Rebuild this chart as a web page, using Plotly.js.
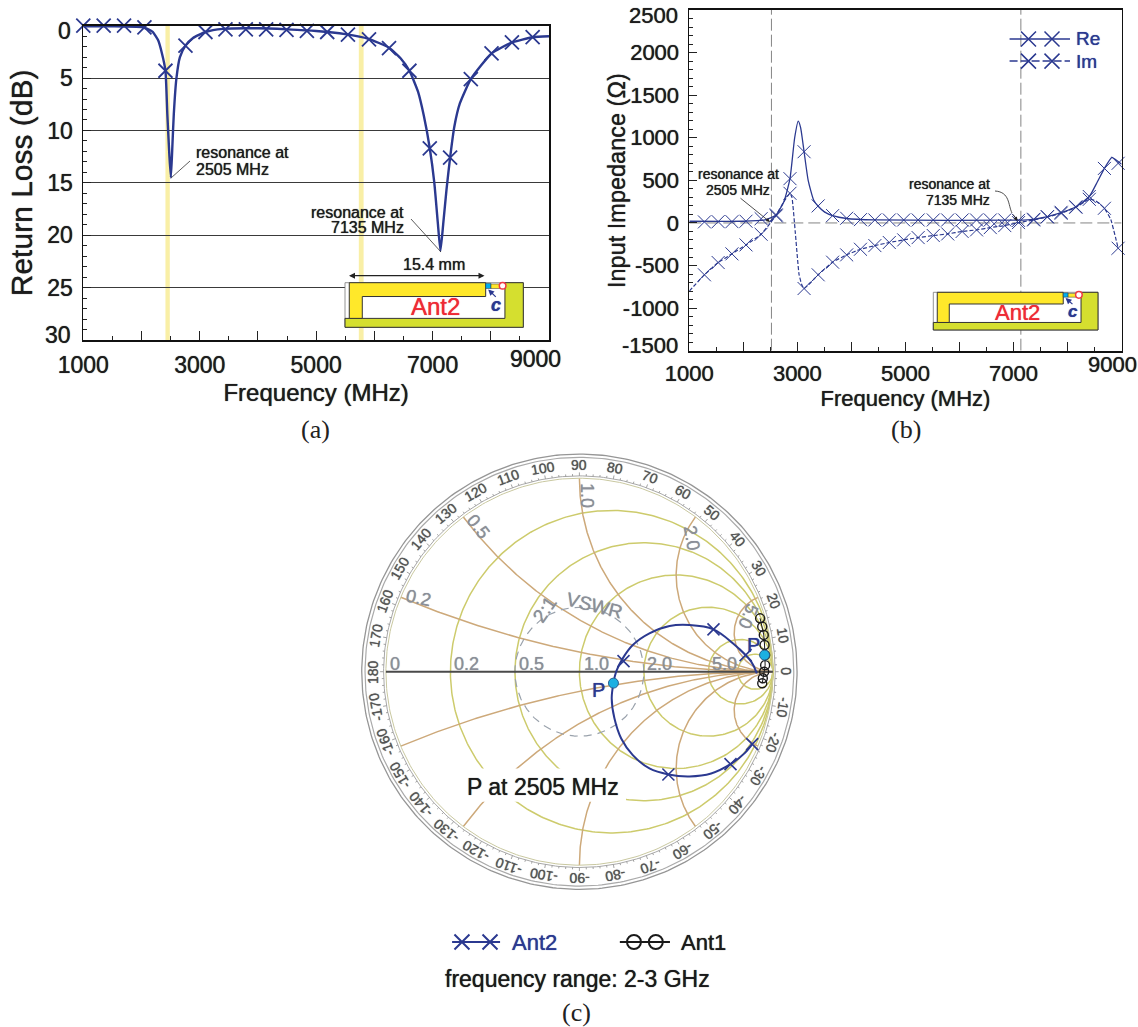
<!DOCTYPE html>
<html><head><meta charset="utf-8">
<script src="https://cdn.plot.ly/plotly-3.0.1.min.js"></script>
<style>html,body{margin:0;padding:0;background:#fff}#c{width:1138px;height:1027px}</style>
</head><body><div id="c"></div>
<script>
// Panel (a) return loss
const rlLineF=[1000,1500,2000,2100,2192,2286,2349,2411,2443,2480,2505,2530,2555,2600,2660,2755,2880,3098,3400,4000,4500,5000,5500,5900,6250,6450,6602,6750,6850,6952,7030,7090,7135,7185,7240,7301,7375,7470,7657,8013,8363,8719,9000];
const rlLineV=[0.05,0.05,0.12,0.3,0.6,1.4,2.6,4.3,8.4,12.5,14.5,11.5,8.4,5,3,1.9,1.2,0.6,0.3,0.25,0.35,0.5,0.8,1.25,2.1,3.1,4.3,6.3,8.6,11.7,15,18.8,21.5,18.8,15.6,12.6,9.6,7.4,5.1,2.65,1.6,1.1,1.0];
const rlMarkF=[1000,1350,1700,2050,2411,2755,3098,3442,3792,4141,4491,4841,5190,5546,5908,6252,6602,6952,7301,7657,8013,8363,8719];
const rlMarkV=[0,0,0,0.15,4.3,1.9,0.6,0.35,0.35,0.35,0.4,0.5,0.6,0.85,1.3,2.15,4.3,11.7,12.6,5.1,2.65,1.6,1.1];
// Panel (b) input impedance
const reLineF=[1000,2000,2400,2600,2750,2863,2950,3016,3060,3124,3200,3300,3385,3500,3652,3912,4434,7092,7372,7626,7880,8154,8402,8550,8682,8821,8936,9000];
const reLineV=[20,20,35,90,250,520,1000,1195,1120,836,500,270,195,130,86,52,35,32,43,74,120,190,310,480,640,770,720,690];
const imLineF=[1000,1280,1534,1789,2049,2329,2500,2609,2750,2863,2900,2960,3030,3078,3124,3385,3652,3912,4167,4434,4701,4968,5235,5515,5782,6049,6316,6570,6838,7092,7372,7626,7880,8154,8402,8520,8682,8800,8936];
const imLineV=[-800,-609,-465,-363,-258,-133,0,94,250,350,300,-100,-600,-720,-770,-609,-461,-375,-309,-266,-230,-199,-172,-148,-129,-100,-82,-55,-31,4,35,70,113,184,277,260,172,40,-297];
const zMarkF=[1280,1534,1789,2049,2329,2609,2863,3124,3385,3652,3912,4167,4434,4701,4968,5235,5515,5782,6049,6316,6570,6838,7092,7372,7626,7880,8154,8402,8682,8936];
const reMarkV=[12,15,15,20,50,82,520,836,200,86,55,39,35,35,35,35,35,35,35,35,35,35,30,43,74,125,190,310,640,700];
const imMarkV=[-609,-465,-363,-258,-133,94,348,-770,-609,-461,-375,-309,-266,-230,-199,-172,-148,-129,-100,-82,-55,-31,4,35,70,113,184,277,172,-297];
const reKeyF=[6927,8045], keyMarkF=[7277,7712];
const reKeyZ=2160, imKeyZ=1900;
// Panel (c) Smith chart
const ant2Re=[.917,.888,.793,.693,.569,.466,.362,.276,.224,.190,.176,.167,.181,.216,.276,.362,.460,.569,.681,.781,.853,.893];
const ant2Im=[-.009,.052,.147,.219,.241,.236,.198,.138,.069,0,-.059,-.138,-.241,-.345,-.431,-.5,-.531,-.541,-.526,-.478,-.422,-.374];
const ant2MarkRe=[.859,.693,.228,.460,.781,.893];
const ant2MarkIm=[.086,.219,.055,-.531,-.478,-.374];
const ant1Re=[.934,.945,.953,.957,.960,.960,.955,.948,.945];
const ant1Im=[.276,.233,.190,.138,.086,.034,0,-.034,-.060];
const pointRe=[.176,.957], pointIm=[-.059,.086];
const rGrid=[0.2,0.5,1,2,5,10];
const xGrid=[0.2,0.5,1,2,5];
const vswrRadius=1/3;
const angleLabels=[180,170,160,150,140,130,120,110,100,90,80,70,60,50,40,30,20,10,0,-10,-20,-30,-40,-50,-60,-70,-80,-90,-100,-110,-120,-130,-140,-150,-160,-170];

const W=1138,H=1027;
const px=x=>x/W, py=y=>1-y/H;
const BLUE='#2b3990', INK='#1c1c1c', GREY='#8b8f98';
const SANS='"Liberation Sans",Arial,sans-serif', SERIF='"Liberation Serif","Times New Roman",serif';
const TAN='#cda97a', OLIVE='#cdcb6c';

const traces=[];
// (a)
traces.push({x:rlLineF,y:rlLineV,xaxis:'x',yaxis:'y',mode:'lines',line:{color:BLUE,width:2.4,shape:'spline',smoothing:0.5}});
traces.push({x:rlMarkF,y:rlMarkV,xaxis:'x',yaxis:'y',mode:'markers',cliponaxis:false,marker:{symbol:'x-thin',size:14,line:{color:BLUE,width:1.8}}});
// (b)
traces.push({x:reLineF,y:reLineV,xaxis:'x2',yaxis:'y2',mode:'lines',line:{color:BLUE,width:1.3,shape:'spline',smoothing:0.5}});
traces.push({x:imLineF,y:imLineV,xaxis:'x2',yaxis:'y2',mode:'lines',line:{color:BLUE,width:1.2,dash:'4px,2px',shape:'spline',smoothing:0.4}});
traces.push({x:zMarkF,y:reMarkV,xaxis:'x2',yaxis:'y2',mode:'markers',cliponaxis:false,marker:{symbol:'x-thin',size:13,line:{color:BLUE,width:1}}});
traces.push({x:zMarkF,y:imMarkV,xaxis:'x2',yaxis:'y2',mode:'markers',cliponaxis:false,marker:{symbol:'x-thin',size:13,line:{color:BLUE,width:1}}});
// (b) legend keys
traces.push({x:reKeyF,y:[reKeyZ,reKeyZ],xaxis:'x2',yaxis:'y2',mode:'lines',line:{color:BLUE,width:1.5}});
traces.push({x:reKeyF,y:[imKeyZ,imKeyZ],xaxis:'x2',yaxis:'y2',mode:'lines',line:{color:BLUE,width:1.5,dash:'8px,3px'}});
traces.push({x:keyMarkF,y:[reKeyZ,reKeyZ],xaxis:'x2',yaxis:'y2',mode:'markers',marker:{symbol:'x-thin',size:15,line:{color:BLUE,width:1.5}}});
traces.push({x:keyMarkF,y:[imKeyZ,imKeyZ],xaxis:'x2',yaxis:'y2',mode:'markers',marker:{symbol:'x-thin',size:15,line:{color:BLUE,width:1.5}}});

// (c) Smith grid
function circleTrace(xs,ys,color,width,dash){return {x:xs,y:ys,xaxis:'x3',yaxis:'y3',mode:'lines',cliponaxis:false,line:{color:color,width:width,dash:dash||'solid'}};}
function ringTrace(radius,color,width,dash){const a=[],b=[];for(let i=0;i<=360;i++){a.push(radius*Math.cos(i*Math.PI/180));b.push(radius*Math.sin(i*Math.PI/180));}return circleTrace(a,b,color,width,dash);}
function gamma(r,x){const d=(r+1)*(r+1)+x*x;return [(r*r+x*x-1)/d,2*x/d];}
traces.push(ringTrace(1.125,'#969696',1.3));
traces.push(ringTrace(1.108,'#aaaaaa',1.2));
traces.push(ringTrace(1.012,'#a8a8a8',1));
rGrid.forEach(r=>{const a=[],b=[];for(let i=0;i<=400;i++){const t=-Math.PI/2+Math.PI*(i+0.0001)/400.0002;const g=gamma(r,Math.tan(t));a.push(g[0]);b.push(g[1]);}traces.push(circleTrace(a,b,OLIVE,1.5));});
xGrid.forEach(v=>[1,-1].forEach(s=>{const a=[],b=[];for(let i=0;i<=200;i++){const t=(Math.PI/2)*(i/200.001);const g=gamma(Math.tan(t),s*v);a.push(g[0]);b.push(g[1]);}traces.push(circleTrace(a,b,TAN,1.5));}));
traces.push(ringTrace(vswrRadius,'#9aa2ac',1.2,'8px,6px'));
traces.push(ringTrace(1,'#c9c8a0',1));
traces.push(circleTrace([-1,1],[0,0],'#4a4a4a',2));
// rim ticks
(function(){const a=[],b=[];for(let d=0;d<360;d+=2){const c=Math.cos(d*Math.PI/180),s=Math.sin(d*Math.PI/180),o=d%10===0?1.03:1.022;a.push(1.012*c,o*c,null);b.push(1.012*s,o*s,null);}traces.push(circleTrace(a,b,'#8a8a8a',0.8));})();
// series
traces.push({x:ant2Re,y:ant2Im,xaxis:'x3',yaxis:'y3',mode:'lines',line:{color:BLUE,width:2,shape:'spline'}});
traces.push({x:ant2MarkRe,y:ant2MarkIm,xaxis:'x3',yaxis:'y3',mode:'markers',marker:{symbol:'x-thin',size:12,line:{color:BLUE,width:1.6}}});
traces.push({x:ant1Re,y:ant1Im,xaxis:'x3',yaxis:'y3',mode:'lines+markers',line:{color:'#1a1a1a',width:1},marker:{symbol:'circle-open',size:9,color:'#1a1a1a',line:{color:'#1a1a1a',width:1.4}}});
traces.push({x:pointRe,y:pointIm,xaxis:'x3',yaxis:'y3',mode:'markers',marker:{symbol:'circle',size:10,color:'#1cb0e2',line:{color:'#2b5f90',width:1}}});
// (c) legend keys
traces.push({x:[-.658,-.41],y:[-1.397,-1.397],xaxis:'x3',yaxis:'y3',mode:'lines',line:{color:BLUE,width:2}});
traces.push({x:[-.607,-.462],y:[-1.397,-1.397],xaxis:'x3',yaxis:'y3',mode:'markers',marker:{symbol:'x-thin',size:15,line:{color:BLUE,width:2}}});
traces.push({x:[.209,.468],y:[-1.397,-1.397],xaxis:'x3',yaxis:'y3',mode:'lines',line:{color:'#1a1a1a',width:2}});
traces.push({x:[.282,.395],y:[-1.397,-1.397],xaxis:'x3',yaxis:'y3',mode:'markers',marker:{symbol:'circle-open',size:14,color:'#1a1a1a',line:{color:'#1a1a1a',width:2}}});

const shapes=[], annotations=[];
function note(text,x,y,o){annotations.push(Object.assign({text:text,x:x,y:y,xref:'paper',yref:'paper',showarrow:false,xanchor:'center',yanchor:'middle',font:{family:SANS,size:15,color:INK}},o||{}));}
function pnote(text,x,y,o){note(text,px(x),py(y),o);}
function seg(x0,y0,x1,y1,color,w){shapes.push({type:'line',xref:'paper',yref:'paper',x0:px(x0),y0:py(y0),x1:px(x1),y1:py(y1),line:{color:color||'#333',width:w||0.8},layer:'above'});}
function arrow(xTip,yTip,xTail,yTail,color,w,both){annotations.push({text:'',xref:'paper',yref:'paper',x:px(xTip),y:py(yTip),ax:xTail-xTip,ay:yTail-yTip,showarrow:true,arrowhead:2,arrowsize:1,arrowwidth:w||1,arrowcolor:color||'#222',arrowside:both?'end+start':'end'});}
function poly(pts,fill,lineC,lw){const d=pts.map((p,i)=>(i?'L':'M')+px(p[0])+','+py(p[1])).join(' ')+' Z';shapes.push({type:'path',xref:'paper',yref:'paper',path:d,fillcolor:fill,line:{color:lineC||'#333',width:lw===undefined?1:lw},layer:'above'});}

// yellow bands (a)
[[2411,2486],[5733,5815]].forEach(b=>shapes.push({type:'rect',xref:'x',yref:'paper',x0:b[0],x1:b[1],y0:py(340),y1:py(25.7),fillcolor:'#f9efa6',line:{width:0},layer:'below'}));
// reference lines (b)
[2520,7136].forEach(v=>shapes.push({type:'line',xref:'x2',yref:'y2',x0:v,x1:v,y0:-1500,y1:2500,line:{color:'#666',width:0.8,dash:'12px,4px'},layer:'below'}));
shapes.push({type:'line',xref:'x2',yref:'y2',x0:1000,x1:9000,y0:0,y1:0,line:{color:'#666',width:0.8,dash:'12px,5px'},layer:'below'});

function inset(x0,y0,w,h,antFont,cFont){
  const U=u=>x0+u*w,V=v=>y0+v*h;
  const R=(u0,v0,u1,v1,f,l,lw)=>poly([[U(u0),V(v0)],[U(u1),V(v0)],[U(u1),V(v1)],[U(u0),V(v1)]],f,l,lw);
  R(0,0,1,1,'#ffffff','#777',0.8);
  poly([[U(.897),V(0)],[U(1),V(0)],[U(1),V(1)],[U(0),V(1)],[U(0),V(.8)],[U(.897),V(.8)]],'#d5df2f','#333',1);
  poly([[U(.024),V(0)],[U(.789),V(0)],[U(.789),V(.31)],[U(.097),V(.31)],[U(.097),V(.8)],[U(.024),V(.8)]],'#ffe82a','#333',1);
  R(.789,.015,.819,.13,'#00aeef','#333',0.5);
  R(.819,.03,.869,.13,'#ffe82a','#333',0.5);
  shapes.push({type:'circle',xref:'paper',yref:'paper',x0:px(U(.884)-3.3),x1:px(U(.884)+3.3),y0:py(V(.067)+3.3),y1:py(V(.067)-3.3),fillcolor:'#fff',line:{color:'#ee3a45',width:1.5},layer:'above'});
  arrow(U(.803),V(.15),U(.854),V(.35),BLUE,1.2);
  pnote('Ant2',U(.51),V(.54),{font:{family:SANS,size:antFont,color:'#ee2a35'}});
  pnote('c',U(.846),V(.51),{font:{family:SANS,size:cFont,color:BLUE,style:'italic',weight:700}});
}
inset(345,282.7,178.3,44.6,24,18);
inset(933.3,292.3,164.7,37.7,22,17);

// dim line + text (a)
arrow(349,275.7,486,275.7,'#222',1.2,true);
pnote('15.4 mm',434,265,{font:{family:SANS,size:16,color:INK}});
// callouts (a)
seg(171,178,190,161);
pnote('resonance at',194,153,{xanchor:'left',font:{family:SANS,size:16,color:INK}});
pnote('2505 MHz',194,169,{xanchor:'left',font:{family:SANS,size:16,color:INK}});
seg(411,219,441,252);
pnote('resonance at',406,212,{xanchor:'right',font:{family:SANS,size:16,color:INK}});
pnote('7135 MHz',406,228,{xanchor:'right',font:{family:SANS,size:16,color:INK}});
// callouts (b)
arrow(770,222,739,197,'#222',0.8);
pnote('resonance at',738,174,{font:{family:SANS,size:14,color:INK}});
pnote('2505 MHz',738,190,{font:{family:SANS,size:14,color:INK}});
pnote('resonance at',992,184,{xanchor:'right',font:{family:SANS,size:14,color:INK}});
pnote('7135 MHz',992,200,{xanchor:'right',font:{family:SANS,size:14,color:INK}});
shapes.push({type:'path',xref:'paper',yref:'paper',layer:'above',line:{color:'#222',width:0.8},
  path:`M${px(995)},${py(191)} C${px(1010)},${py(192)} ${px(1008)},${py(205)} ${px(1012)},${py(213)}`});
arrow(1017.5,221,1012,213,'#222',0.8);
// (b) legend text
pnote('Re',1074,39,{xanchor:'left',font:{family:SANS,size:19,color:BLUE}});
pnote('Im',1074,61,{xanchor:'left',font:{family:SANS,size:19,color:BLUE}});
// shifted end tick labels
pnote('9000',535,359,{font:{family:SANS,size:23,color:INK}});
pnote('9000',1112,364,{font:{family:SANS,size:22,color:INK}});
pnote('0',73,31,{xanchor:'right',font:{family:SANS,size:23,color:INK}});
pnote('30',73,335,{xanchor:'right',font:{family:SANS,size:23,color:INK}});
pnote('2500',680,15,{xanchor:'right',font:{family:SANS,size:22,color:INK}});
pnote('-1500',680,345,{xanchor:'right',font:{family:SANS,size:22,color:INK}});
// (b) y title
pnote('Input Impedance (Ω)',617,181,{textangle:-90,font:{family:SANS,size:23.5,color:INK}});
// captions
pnote('(a)',315,429,{font:{family:SERIF,size:26,color:'#222'}});
pnote('(b)',906,429,{font:{family:SERIF,size:26,color:'#222'}});
pnote('(c)',577,1012,{font:{family:SERIF,size:26,color:'#222'}});

// (c) texts
function gnote(text,gx,gy,o){annotations.push(Object.assign({text:text,x:gx,y:gy,xref:'x3',yref:'y3',showarrow:false,xanchor:'center',yanchor:'middle',font:{family:SANS,size:18,color:GREY}},o||{}));}
angleLabels.forEach(a=>{const t=a*Math.PI/180;let rot=90-a;if(rot>180)rot-=360;gnote(String(a),1.07*Math.cos(t),1.07*Math.sin(t),{textangle:rot,font:{family:SANS,size:14,color:'#555'}});});
gnote('0',-.955,.038);gnote('0.2',-.586,.038);gnote('0.5',-.25,.038);gnote('1.0',.086,.038);gnote('2.0',.414,.038);gnote('5.0',.75,.038);
gnote('0.2',-.83,.38,{textangle:12});
gnote('0.5',-.52,.75,{textangle:52});
gnote('1.0',.043,.91,{textangle:90});
gnote('2.0',.58,.69,{textangle:80});
gnote('5.0',.875,.285,{textangle:112});
gnote('2:1',-.181,.324,{textangle:-55,font:{family:SANS,size:19,color:GREY}});
gnote('VSWR',.078,.341,{textangle:14,font:{family:SANS,size:19,color:GREY}});
gnote('P',.1,-.095,{font:{family:SANS,size:20,color:BLUE}});
gnote('P',.902,.138,{font:{family:SANS,size:20,color:BLUE}});
shapes.push({type:'rect',xref:'x3',yref:'y3',x0:-.603,x1:.241,y0:-.672,y1:-.5,fillcolor:'#fff',line:{width:0},layer:'above'});
gnote('P at 2505 MHz',-.19,-.595,{font:{family:SANS,size:23,color:'#1a1a1a'}});
gnote('Ant2',-.234,-1.397,{font:{family:SANS,size:22,color:BLUE}});
gnote('Ant1',.64,-1.397,{font:{family:SANS,size:22,color:'#1a1a1a'}});
gnote('frequency range: 2-3 GHz',-.008,-1.59,{font:{family:SANS,size:23,color:'#1a1a1a'}});

const xTickVals=[1000,2000,3000,4000,5000,6000,7000,8000,9000];
const xTickText=['1000','','3000','','5000','','7000','',''];
function xAxis(anchor,dom,size,titleSize,standoff,lab){return {anchor:anchor,domain:dom,range:[1000,9000],tickmode:'array',tickvals:xTickVals,ticktext:xTickText,ticks:'inside',ticklen:9,tickwidth:1,tickcolor:'#222',minor:{dtick:500,ticks:'inside',ticklen:4,tickcolor:'#222',tickwidth:1,showgrid:false},showgrid:false,zeroline:false,showline:true,mirror:true,linecolor:'#111',linewidth:1.8,tickfont:{family:SANS,size:size,color:INK},ticklabelstandoff:lab,title:{text:'Frequency (MHz)',font:{family:SANS,size:titleSize,color:INK},standoff:standoff},automargin:false};}

const layout={width:W,height:H,paper_bgcolor:'#fff',plot_bgcolor:'#fff',showlegend:false,margin:{l:0,r:0,t:0,b:0},
  xaxis:xAxis('y',[px(83.3),px(549)],23,24,7,4),
  yaxis:{anchor:'x',domain:[py(340),py(25.7)],range:[30,0],tickmode:'array',tickvals:[0,5,10,15,20,25,30],ticktext:['','5','10','15','20','25',''],ticks:'inside',ticklen:8,tickwidth:1,tickcolor:'#222',minor:{dtick:1,ticks:'inside',ticklen:4,tickcolor:'#222',tickwidth:1,showgrid:false},showgrid:true,gridcolor:'#3a3a3a',gridwidth:1,zeroline:false,showline:true,mirror:true,linecolor:'#111',linewidth:1.8,tickfont:{family:SANS,size:23,color:INK},ticklabelstandoff:4,title:{text:'Return Loss (dB)',font:{family:SANS,size:30,color:INK},standoff:6},automargin:false},
  xaxis2:xAxis('y2',[px(689.3),px(1121.6)],22,22,0,2),
  yaxis2:{anchor:'x2',domain:[py(350.7),py(10)],range:[-1500,2500],tickmode:'array',tickvals:[-1500,-1000,-500,0,500,1000,1500,2000,2500],ticktext:['','-1000','-500','0','500','1000','1500','2000',''],ticks:'inside',ticklen:8,tickwidth:1,tickcolor:'#222',minor:{dtick:100,ticks:'inside',ticklen:4,tickcolor:'#222',tickwidth:1,showgrid:false},showgrid:false,zeroline:false,showline:true,mirror:true,linecolor:'#111',linewidth:1.8,tickfont:{family:SANS,size:22,color:INK},ticklabelstandoff:4,automargin:false},
  xaxis3:{anchor:'y3',domain:[px(356.9),px(801.9)],range:[-1.15,1.15],visible:false,fixedrange:true},
  yaxis3:{anchor:'x3',domain:[py(1004.5),py(449.2)],range:[-1.72,1.15],visible:false,fixedrange:true},
  shapes:shapes,annotations:annotations};
// slight stroke so the sans text carries the same visual weight as the printed original
function heavy(f){if(f&&f.family===SANS)f.shadow='0 0 0.8px '+f.color;}
annotations.forEach(a=>heavy(a.font));
['xaxis','yaxis','xaxis2','yaxis2'].forEach(k=>{heavy(layout[k].tickfont);if(layout[k].title)heavy(layout[k].title.font);});
Plotly.newPlot('c',traces,layout,{staticPlot:true,displayModeBar:false});
</script></body></html>
